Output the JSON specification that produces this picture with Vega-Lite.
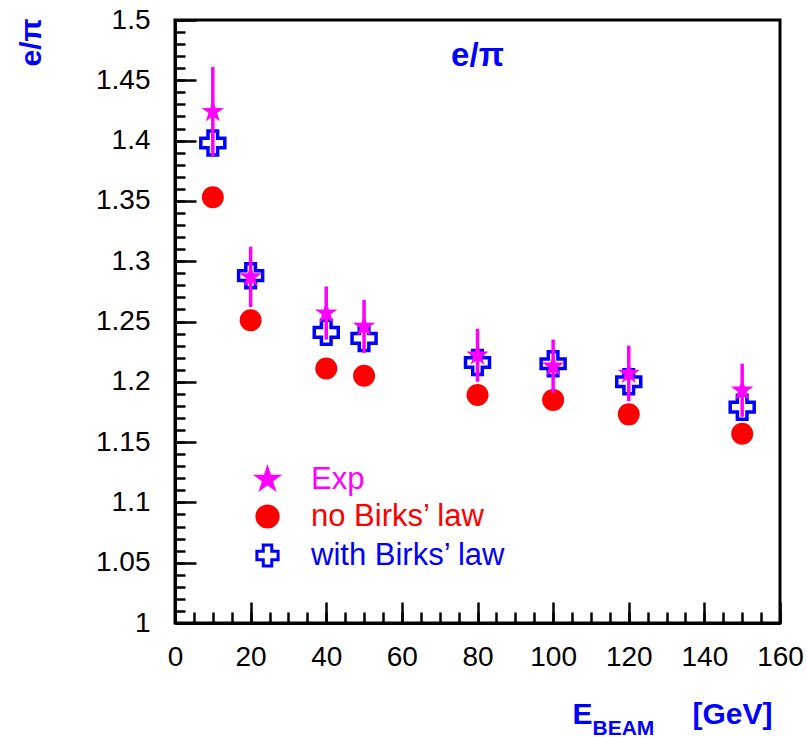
{
  "$schema": "https://vega.github.io/schema/vega-lite/v6.json",
  "width": 605,
  "height": 603,
  "autosize": "none",
  "padding": {"left": 175, "top": 20, "right": 27, "bottom": 114},
  "background": "white",
  "config": {
    "view": {"stroke": "black", "strokeWidth": 3},
    "font": "Liberation Sans",
    "axis": {
      "grid": false,
      "domainColor": "black",
      "domainWidth": 3,
      "tickColor": "black",
      "tickWidth": 2.5,
      "labelFont": "Liberation Sans",
      "labelFontSize": 28,
      "labelColor": "black",
      "labelFlush": false,
      "titleFont": "Liberation Sans"
    }
  },
  "title": {
    "text": "e/π",
    "font": "Liberation Sans",
    "fontSize": 33,
    "fontWeight": "bold",
    "color": "#0000ff",
    "anchor": "middle",
    "offset": -45,
    "dy": 48,
    "baseline": "alphabetic"
  },
  "datasets": {
    "pts": [
      {"E": 10, "series": "Exp", "value": 1.424, "err": 0.037},
      {"E": 20, "series": "Exp", "value": 1.287, "err": 0.025},
      {"E": 40, "series": "Exp", "value": 1.257, "err": 0.022},
      {"E": 50, "series": "Exp", "value": 1.246, "err": 0.022},
      {"E": 80, "series": "Exp", "value": 1.222, "err": 0.022},
      {"E": 100, "series": "Exp", "value": 1.213, "err": 0.022},
      {"E": 120, "series": "Exp", "value": 1.207, "err": 0.023},
      {"E": 150, "series": "Exp", "value": 1.193, "err": 0.022},
      {"E": 10, "series": "no Birks’ law", "value": 1.353, "err": 0},
      {"E": 20, "series": "no Birks’ law", "value": 1.251, "err": 0},
      {"E": 40, "series": "no Birks’ law", "value": 1.211, "err": 0},
      {"E": 50, "series": "no Birks’ law", "value": 1.205, "err": 0},
      {"E": 80, "series": "no Birks’ law", "value": 1.189, "err": 0},
      {"E": 100, "series": "no Birks’ law", "value": 1.185, "err": 0},
      {"E": 120, "series": "no Birks’ law", "value": 1.173, "err": 0},
      {"E": 150, "series": "no Birks’ law", "value": 1.157, "err": 0},
      {"E": 10, "series": "with Birks’ law", "value": 1.398, "err": 0},
      {"E": 20, "series": "with Birks’ law", "value": 1.288, "err": 0},
      {"E": 40, "series": "with Birks’ law", "value": 1.241, "err": 0},
      {"E": 50, "series": "with Birks’ law", "value": 1.236, "err": 0},
      {"E": 80, "series": "with Birks’ law", "value": 1.216, "err": 0},
      {"E": 100, "series": "with Birks’ law", "value": 1.215, "err": 0},
      {"E": 120, "series": "with Birks’ law", "value": 1.200, "err": 0},
      {"E": 150, "series": "with Birks’ law", "value": 1.179, "err": 0}
    ]
  },
  "data": {"name": "pts"},
  "layer": [
    {
      "transform": [{"filter": "datum.series == 'no Birks’ law'"}],
      "mark": {"type": "point", "filled": true, "opacity": 1, "size": 484, "strokeWidth": 0},
      "encoding": {
        "x": {"field": "E", "type": "quantitative", "scale": {"domain": [0, 160], "nice": false},
          "axis": {"orient": "bottom", "values": [0, 20, 40, 60, 80, 100, 120, 140, 160], "tickSize": -21, "labelPadding": 41,
            "title": "E", "titleFontSize": 30, "titleFontWeight": "bold", "titleColor": "#0000ff",
            "titleX": 397, "titleY": 100, "titleAlign": "left", "titleBaseline": "alphabetic", "titleAngle": 0}},
        "y": {"field": "value", "type": "quantitative", "scale": {"domain": [1, 1.5], "nice": false, "zero": false},
          "axis": {"orient": "left", "values": [1, 1.05, 1.1, 1.15, 1.2, 1.25, 1.3, 1.35, 1.4, 1.45, 1.5], "format": "~g", "tickSize": -21, "labelPadding": 46,
            "title": "e/π", "titleFontSize": 30, "titleFontWeight": "bold", "titleColor": "#0000ff",
            "titleX": -135, "titleY": -2, "titleAngle": -90, "titleAlign": "right", "titleBaseline": "alphabetic"}},
        "shape": {"field": "series", "type": "nominal",
          "scale": {"domain": ["Exp", "no Birks’ law", "with Birks’ law"], "range": ["M0,-1L0.2245,-0.309L0.951,-0.309L0.363,0.118L0.588,0.809L0,0.382L-0.588,0.809L-0.363,0.118L-0.951,-0.309L-0.2245,-0.309Z", "circle", "cross"]},
          "legend": {"title": null, "orient": "none", "legendX": 77, "legendY": 444, "labelFontSize": 31, "labelFont": "Liberation Sans", "labelLimit": 0, "symbolSize": 450, "symbolStrokeWidth": 3, "rowPadding": 4, "labelOffset": 28,
            "labelColor": {"expr": "datum.label == 'Exp' ? '#ff00ff' : (indexof(datum.label, 'no') == 0 ? '#ff0000' : '#0000ff')"}}},
        "fill": {"field": "series", "type": "nominal",
          "scale": {"domain": ["Exp", "no Birks’ law", "with Birks’ law"], "range": ["#ff00ff", "#ff0000", "#ffffff"]},
          "legend": {"title": null, "orient": "none", "legendX": 77, "legendY": 444, "labelFontSize": 31, "labelFont": "Liberation Sans", "labelLimit": 0, "symbolSize": 450, "symbolStrokeWidth": 3, "rowPadding": 4, "labelOffset": 28,
            "labelColor": {"expr": "datum.label == 'Exp' ? '#ff00ff' : (indexof(datum.label, 'no') == 0 ? '#ff0000' : '#0000ff')"}}},
        "stroke": {"field": "series", "type": "nominal",
          "scale": {"domain": ["Exp", "no Birks’ law", "with Birks’ law"], "range": ["#ff00ff", "#ff0000", "#0000ff"]},
          "legend": {"title": null, "orient": "none", "legendX": 77, "legendY": 444, "labelFontSize": 31, "labelFont": "Liberation Sans", "labelLimit": 0, "symbolSize": 450, "symbolStrokeWidth": 3, "rowPadding": 4, "labelOffset": 28,
            "labelColor": {"expr": "datum.label == 'Exp' ? '#ff00ff' : (indexof(datum.label, 'no') == 0 ? '#ff0000' : '#0000ff')"}}}
      }
    },
    {
      "transform": [{"filter": "datum.series == 'with Birks’ law'"}],
      "mark": {"type": "point", "filled": true, "opacity": 1, "size": 576, "strokeWidth": 3.5},
      "encoding": {
        "x": {"field": "E", "type": "quantitative",
          "axis": {"orient": "bottom", "values": [0,5,10,15,20,25,30,35,40,45,50,55,60,65,70,75,80,85,90,95,100,105,110,115,120,125,130,135,140,145,150,155,160], "tickSize": -11, "labels": false, "domain": false,
            "title": "BEAM", "titleFontSize": 21, "titleFontWeight": "bold", "titleColor": "#0000ff",
            "titleX": 417, "titleY": 111, "titleAlign": "left", "titleBaseline": "alphabetic", "titleAngle": 0}},
        "y": {"field": "value", "type": "quantitative",
          "axis": {"orient": "left", "values": [1,1.01,1.02,1.03,1.04,1.05,1.06,1.07,1.08,1.09,1.1,1.11,1.12,1.13,1.14,1.15,1.16,1.17,1.18,1.19,1.2,1.21,1.22,1.23,1.24,1.25,1.26,1.27,1.28,1.29,1.3,1.31,1.32,1.33,1.34,1.35,1.36,1.37,1.38,1.39,1.4,1.41,1.42,1.43,1.44,1.45,1.46,1.47,1.48,1.49,1.5], "tickSize": -10, "labels": false, "domain": false, "title": null}},
        "shape": {"field": "series", "type": "nominal"},
        "fill": {"field": "series", "type": "nominal"},
        "stroke": {"field": "series", "type": "nominal"}
      }
    },
    {
      "transform": [{"filter": "datum.series == 'Exp'"}],
      "mark": {"type": "errorbar", "ticks": false, "thickness": 3.5, "color": "#ff00ff"},
      "encoding": {
        "x": {"field": "E", "type": "quantitative",
          "axis": {"orient": "bottom", "ticks": false, "labels": false, "domain": false,
            "title": "[GeV]", "titleFontSize": 30, "titleFontWeight": "bold", "titleColor": "#0000ff",
            "titleX": 517, "titleY": 100, "titleAlign": "left", "titleBaseline": "alphabetic", "titleAngle": 0}},
        "y": {"field": "value", "type": "quantitative", "axis": null},
        "yError": {"field": "err"}
      }
    },
    {
      "transform": [{"filter": "datum.series == 'Exp'"}],
      "mark": {"type": "point", "filled": true, "opacity": 1, "size": 560, "strokeWidth": 0},
      "encoding": {
        "x": {"field": "E", "type": "quantitative", "axis": null},
        "y": {"field": "value", "type": "quantitative", "axis": null},
        "shape": {"field": "series", "type": "nominal"},
        "fill": {"field": "series", "type": "nominal"},
        "stroke": {"field": "series", "type": "nominal"}
      }
    }
  ],
  "resolve": {"axis": {"x": "independent", "y": "independent"}}
}
